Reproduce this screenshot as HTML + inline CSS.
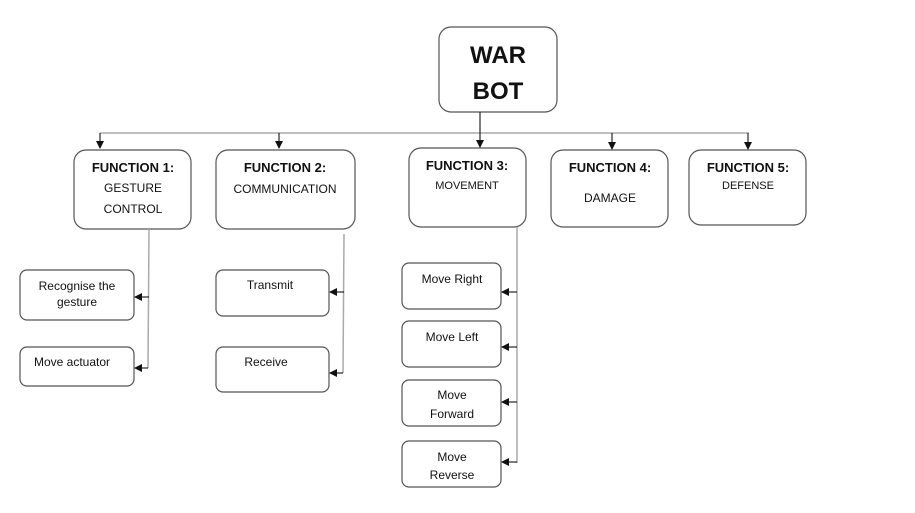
<!DOCTYPE html>
<html><head><meta charset="utf-8"><style>
html,body{margin:0;padding:0;background:#fff;}
svg{display:block;}
text{font-family:"Liberation Sans",sans-serif;fill:#111;}
.b{font-weight:bold;font-size:13px;}
.n{font-size:12px;}
.s{font-size:12px;}
</style></head><body>
<svg width="915" height="513" viewBox="0 0 915 513" xmlns="http://www.w3.org/2000/svg">
<defs><marker id="a" markerWidth="8" markerHeight="8" refX="7" refY="4" orient="auto" markerUnits="userSpaceOnUse"><path d="M0,0 L8,4 L0,8 z" fill="#111"/></marker></defs>
<g fill="none" stroke="#555" stroke-width="1.2">
<rect x="439" y="27" width="118" height="85" rx="12"/>
<rect x="74" y="150" width="117" height="79" rx="12"/>
<rect x="216" y="150" width="139" height="79" rx="12"/>
<rect x="409" y="148" width="117" height="79" rx="12"/>
<rect x="551" y="150" width="117" height="77" rx="12"/>
<rect x="689" y="150" width="117" height="75" rx="12"/>
<rect x="20" y="270" width="114" height="50" rx="7"/>
<rect x="20" y="347" width="114" height="39" rx="7"/>
<rect x="216" y="270" width="113" height="46" rx="7"/>
<rect x="216" y="347" width="113" height="45" rx="7"/>
<rect x="402" y="263" width="99" height="46" rx="7"/>
<rect x="402" y="321" width="99" height="46" rx="7"/>
<rect x="402" y="380" width="99" height="46" rx="7"/>
<rect x="402" y="441" width="99" height="46" rx="7"/>
</g>
<g stroke="#aaa" stroke-width="1.5" fill="none">
<line x1="100" y1="133" x2="749" y2="133"/>
<line x1="149" y1="229" x2="148" y2="368"/>
<line x1="344" y1="234" x2="343" y2="373"/>
<line x1="517" y1="227" x2="517" y2="463"/>
</g>
<g stroke="#111" stroke-width="1.1" fill="none" marker-end="url(#a)">
<line x1="100" y1="133" x2="100" y2="148"/>
<line x1="279" y1="133" x2="279" y2="148"/>
<line x1="480" y1="112" x2="480" y2="147"/>
<line x1="612" y1="133" x2="612" y2="149"/>
<line x1="748" y1="133" x2="748" y2="149"/>
<line x1="149" y1="297" x2="135" y2="297"/>
<line x1="148" y1="368" x2="135" y2="368"/>
<line x1="344" y1="292" x2="330" y2="292"/>
<line x1="343" y1="373" x2="330" y2="373"/>
<line x1="517" y1="292" x2="502" y2="292"/>
<line x1="517" y1="347" x2="502" y2="347"/>
<line x1="517" y1="402" x2="502" y2="402"/>
<line x1="517" y1="462" x2="502" y2="462"/>
</g>
<g text-anchor="middle">
<text x="498" y="63" style="font-weight:bold;font-size:24px">WAR</text>
<text x="498" y="99" style="font-weight:bold;font-size:24px">BOT</text>
<text class="b" x="133" y="172">FUNCTION 1:</text>
<text class="n" x="133" y="192">GESTURE</text>
<text class="n" x="133" y="213">CONTROL</text>
<text class="b" x="285" y="172">FUNCTION 2:</text>
<text class="n" x="285" y="193">COMMUNICATION</text>
<text class="b" x="467" y="170">FUNCTION 3:</text>
<text class="n" x="467" y="189" style="font-size:11px">MOVEMENT</text>
<text class="b" x="610" y="172">FUNCTION 4:</text>
<text class="n" x="610" y="202">DAMAGE</text>
<text class="b" x="748" y="172">FUNCTION 5:</text>
<text class="n" x="748" y="189" style="font-size:11px">DEFENSE</text>
<text class="s" x="77" y="290">Recognise the</text>
<text class="s" x="77" y="306">gesture</text>
<text class="s" x="72" y="366">Move actuator</text>
<text class="s" x="270" y="289">Transmit</text>
<text class="s" x="266" y="366">Receive</text>
<text class="s" x="452" y="283">Move Right</text>
<text class="s" x="452" y="341">Move Left</text>
<text class="s" x="452" y="399">Move</text>
<text class="s" x="452" y="418">Forward</text>
<text class="s" x="452" y="461">Move</text>
<text class="s" x="452" y="479">Reverse</text>
</g>
</svg>
</body></html>
